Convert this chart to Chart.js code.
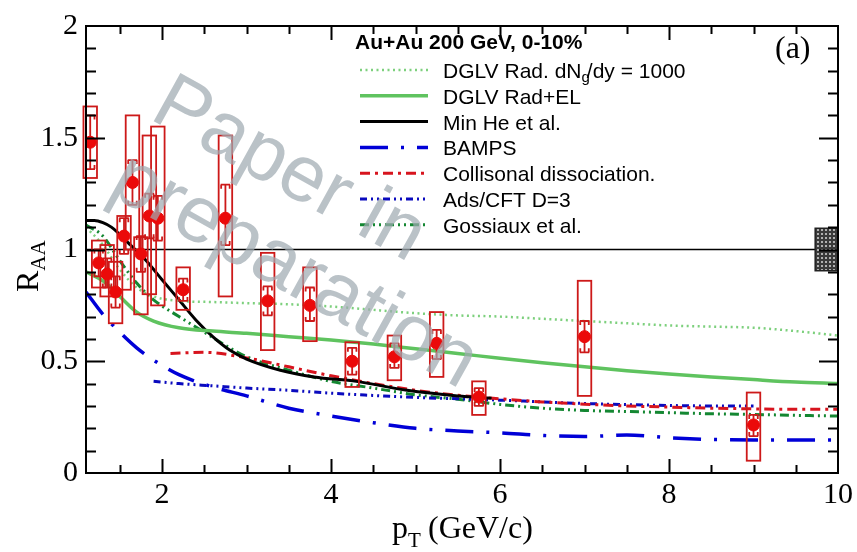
<!DOCTYPE html>
<html>
<head>
<meta charset="utf-8">
<script src="https://cdn.jsdelivr.net/npm/chart.js@4.4.0/dist/chart.umd.min.js"></script>
<style>
  html, body { margin: 0; padding: 0; background: #fff; }
  #wrap { width: 857px; height: 552px; }
</style>
</head>
<body>
<div id="wrap"><canvas id="raaChart" width="857" height="552"></canvas></div>
<script>
// measured D0 RAA points
const dataPt = [1.15, 1.25, 1.35, 1.45, 1.55, 1.65, 1.75, 1.85, 1.95, 2.25, 2.75, 3.25, 3.75, 4.25, 4.75, 5.25, 5.75, 7.0, 9.0];
const dataRaa = [1.48, 0.94, 0.89, 0.81, 1.06, 1.30, 0.98, 1.15, 1.14, 0.82, 1.14, 0.77, 0.75, 0.50, 0.52, 0.58, 0.34, 0.61, 0.215];
const statLow = [1.36, 0.88, 0.83, 0.74, 0.98, 1.20, 0.90, 1.05, 1.04, 0.77, 1.02, 0.705, 0.68, 0.44, 0.47, 0.51, 0.30, 0.54, 0.165];
const statHigh = [1.60, 1.00, 0.96, 0.88, 1.14, 1.40, 1.06, 1.25, 1.24, 0.87, 1.29, 0.835, 0.83, 0.56, 0.58, 0.64, 0.38, 0.68, 0.26];
const sysLow = [1.32, 0.83, 0.79, 0.67, 0.82, 1.00, 0.71, 0.80, 0.75, 0.73, 0.79, 0.55, 0.59, 0.385, 0.415, 0.43, 0.26, 0.345, 0.055];
const sysHigh = [1.64, 1.04, 1.02, 0.945, 1.15, 1.60, 1.055, 1.51, 1.55, 0.92, 1.51, 0.985, 0.92, 0.585, 0.615, 0.72, 0.41, 0.86, 0.36];
const boxHalfWidth = 0.08;

// normalisation uncertainty at RAA = 1
const normPt = [9.73, 10.0];
const normRaa = [0.905, 1.095];

// model curves
const dglvRadPt = [1.1, 1.3, 1.5, 1.7, 1.9, 2.2, 2.6, 3.0, 3.5, 4.0, 4.5, 5.0, 5.5, 6.0, 6.5, 7.0, 7.5, 8.0, 8.5, 9.0, 9.5, 10.0];
const dglvRadRaa = [1.10, 1.02, 0.91, 0.83, 0.79, 0.77, 0.765, 0.76, 0.755, 0.745, 0.73, 0.715, 0.705, 0.70, 0.69, 0.68, 0.67, 0.66, 0.655, 0.65, 0.635, 0.615];

const dglvElPt = [1.1, 1.3, 1.5, 1.7, 1.9, 2.2, 2.6, 3.0, 3.5, 4.0, 4.5, 5.0, 5.5, 6.0, 6.5, 7.0, 7.5, 8.0, 8.5, 9.0, 9.5, 10.0];
const dglvElRaa = [0.90, 0.86, 0.79, 0.72, 0.68, 0.65, 0.635, 0.625, 0.61, 0.595, 0.577, 0.556, 0.535, 0.513, 0.493, 0.475, 0.458, 0.443, 0.43, 0.418, 0.407, 0.40];

const minHePt = [1.1, 1.2, 1.3, 1.4, 1.6, 1.8, 2.0, 2.2, 2.4, 2.6, 2.8, 3.0, 3.4, 3.8, 4.3, 4.9, 5.5, 5.9];
const minHeRaa = [1.13, 1.13, 1.12, 1.10, 1.03, 0.955, 0.865, 0.775, 0.685, 0.61, 0.55, 0.51, 0.46, 0.43, 0.41, 0.37, 0.345, 0.335];

const bampsPt = [1.1, 1.3, 1.5, 1.7, 1.9, 2.2, 2.6, 3.0, 3.5, 4.0, 4.5, 5.0, 5.5, 6.0, 6.5, 7.0, 7.5, 8.0, 8.5, 9.0, 9.5, 10.0];
const bampsRaa = [0.81, 0.71, 0.63, 0.56, 0.505, 0.44, 0.385, 0.345, 0.29, 0.255, 0.225, 0.20, 0.188, 0.18, 0.168, 0.163, 0.17, 0.158, 0.15, 0.148, 0.148, 0.148];

const collPt = [2.1, 2.5, 3.0, 3.5, 4.0, 4.5, 5.0, 5.5, 6.0, 6.5, 7.0, 7.5, 8.0, 8.5, 9.0, 9.5, 10.0];
const collRaa = [0.535, 0.54, 0.515, 0.475, 0.435, 0.40, 0.37, 0.348, 0.332, 0.318, 0.308, 0.30, 0.295, 0.29, 0.287, 0.285, 0.285];

const adsPt = [1.9, 2.2, 2.6, 3.0, 3.5, 4.0, 4.5, 5.0, 5.5, 6.0, 6.5, 7.0, 7.5, 8.0, 8.5, 9.0];
const adsRaa = [0.41, 0.40, 0.39, 0.38, 0.37, 0.357, 0.347, 0.338, 0.332, 0.326, 0.318, 0.311, 0.306, 0.302, 0.30, 0.30];

const gossPt = [1.1, 1.3, 1.5, 1.7, 1.9, 2.2, 2.5, 2.8, 3.0, 3.5, 4.0, 4.5, 5.0, 5.5, 6.0, 6.5, 7.0, 7.5, 8.0, 8.5, 9.0, 9.5, 10.0];
const gossRaa = [1.11, 1.06, 0.95, 0.85, 0.775, 0.70, 0.63, 0.56, 0.52, 0.46, 0.41, 0.38, 0.35, 0.33, 0.307, 0.29, 0.28, 0.275, 0.27, 0.265, 0.262, 0.258, 0.255];

const xTickLabels = [2, 4, 6, 8, 10];
const yTickLabels = [0, 0.5, 1, 1.5, 2];

const models = [
  { label: "DGLV Rad. dN", sub: "g", rest: "/dy = 1000", pt: dglvRadPt, raa: dglvRadRaa, color: "rgb(125,208,125)", width: 2.5, dash: [2, 3.5] },
  { label: "DGLV Rad+EL", pt: dglvElPt, raa: dglvElRaa, color: "rgb(95,195,95)", width: 3.5, dash: [] },
  { label: "Min He et al.", pt: minHePt, raa: minHeRaa, color: "#000", width: 3, dash: [] },
  { label: "BAMPS", pt: bampsPt, raa: bampsRaa, color: "rgb(0,0,215)", width: 3.5, dash: [28, 13, 3, 13] },
  { label: "Collisonal dissociation.", pt: collPt, raa: collRaa, color: "rgb(215,20,30)", width: 3, dash: [10, 5, 3, 5] },
  { label: "Ads/CFT D=3", pt: adsPt, raa: adsRaa, color: "rgb(10,10,190)", width: 3, dash: [7, 4, 2, 4, 2, 4] },
  { label: "Gossiaux et al.", pt: gossPt, raa: gossRaa, color: "rgb(20,135,50)", width: 3, dash: [9, 4, 2, 4, 2, 4] },
];

function toXY(xs, ys) {
  return xs.map((x, i) => ({ x: x, y: ys[i] }));
}

const datasets = models.map((m) => ({
  type: "line",
  label: m.label,
  data: toXY(m.pt, m.raa),
  borderColor: m.color,
  borderWidth: m.width,
  borderDash: m.dash,
  pointRadius: 0,
  fill: false,
  cubicInterpolationMode: "monotone",
  order: 2,
}));

datasets.push({
  type: "scatter",
  label: "data",
  data: toXY(dataPt, dataRaa),
  pointRadius: 6,
  pointBackgroundColor: "rgb(235,10,10)",
  pointBorderColor: "rgb(235,10,10)",
  order: 0,
});

const serif = '"Liberation Serif", "DejaVu Serif", serif';
const sans = '"Liberation Sans", Arial, sans-serif';

const overlay = {
  id: "overlay",
  beforeDatasetsDraw(chart) {
    const { ctx, chartArea: a } = chart;
    const xs = chart.scales.x, ys = chart.scales.y;
    ctx.save();
    // RAA = 1 line
    ctx.strokeStyle = "#000";
    ctx.lineWidth = 1.5;
    ctx.beginPath();
    ctx.moveTo(a.left, ys.getPixelForValue(1));
    ctx.lineTo(xs.getPixelForValue(normPt[0]), ys.getPixelForValue(1));
    ctx.stroke();
    // normalisation box
    const pc = document.createElement("canvas");
    pc.width = 4; pc.height = 4;
    const p = pc.getContext("2d");
    p.fillStyle = "#3a3a3a"; p.fillRect(0, 0, 4, 4);
    p.fillStyle = "#b0b0b0"; p.fillRect(1, 1, 2, 2);
    const x0 = xs.getPixelForValue(normPt[0]), x1 = xs.getPixelForValue(normPt[1]);
    const y0 = ys.getPixelForValue(normRaa[1]), y1 = ys.getPixelForValue(normRaa[0]);
    ctx.fillStyle = ctx.createPattern(pc, "repeat");
    ctx.fillRect(x0, y0, x1 - x0, y1 - y0);
    ctx.strokeStyle = "#222";
    ctx.lineWidth = 1.5;
    ctx.strokeRect(x0, y0, x1 - x0, y1 - y0);
    ctx.restore();
  },
  beforeDatasetDraw(chart, args) {
    if (args.index !== models.length) return;
    const { ctx } = chart;
    const xs = chart.scales.x, ys = chart.scales.y;
    ctx.save();
    ctx.strokeStyle = "rgb(205,25,25)";
    ctx.lineWidth = 1.8;
    dataPt.forEach((pt, i) => {
      const l = xs.getPixelForValue(pt - boxHalfWidth);
      const r = xs.getPixelForValue(pt + boxHalfWidth);
      const c = xs.getPixelForValue(pt);
      const top = ys.getPixelForValue(sysHigh[i]);
      const bot = ys.getPixelForValue(sysLow[i]);
      ctx.strokeRect(l, top, r - l, bot - top);
      // stat error bar with bracket caps
      const st = ys.getPixelForValue(statHigh[i]);
      const sb = ys.getPixelForValue(statLow[i]);
      ctx.beginPath();
      ctx.moveTo(c, st); ctx.lineTo(c, sb);
      ctx.moveTo(l + 2, st); ctx.lineTo(r - 2, st);
      ctx.moveTo(l + 2, sb); ctx.lineTo(r - 2, sb);
      ctx.moveTo(l + 2.5, st); ctx.lineTo(l + 2.5, st + 4);
      ctx.moveTo(r - 2.5, st); ctx.lineTo(r - 2.5, st + 4);
      ctx.moveTo(l + 2.5, sb); ctx.lineTo(l + 2.5, sb - 4);
      ctx.moveTo(r - 2.5, sb); ctx.lineTo(r - 2.5, sb - 4);
      ctx.stroke();
    });
    ctx.restore();
  },
  afterDatasetsDraw(chart) {
    const { ctx, chartArea: a } = chart;
    const xs = chart.scales.x, ys = chart.scales.y;
    ctx.save();
    // frame
    ctx.strokeStyle = "#000";
    ctx.lineWidth = 2;
    ctx.strokeRect(a.left, a.top, a.right - a.left, a.bottom - a.top);
    // inward ticks on all four sides
    ctx.lineWidth = 2;
    ctx.beginPath();
    for (let v = 1.5; v < 10; v += 0.5) {
      const px = Math.round(xs.getPixelForValue(v)) + 0.5;
      const len = Math.abs(v % 2) < 1e-6 ? 14 : 8;
      ctx.moveTo(px, a.bottom); ctx.lineTo(px, a.bottom - len);
      ctx.moveTo(px, a.top); ctx.lineTo(px, a.top + len);
    }
    for (let k = 1; k < 20; k++) {
      const v = k / 10;
      const py = Math.round(ys.getPixelForValue(v)) + 0.5;
      const len = k % 5 === 0 ? 19 : 10;
      ctx.moveTo(a.left, py); ctx.lineTo(a.left + len, py);
      ctx.moveTo(a.right, py); ctx.lineTo(a.right - len, py);
    }
    ctx.stroke();

    // legend
    ctx.fillStyle = "#000";
    ctx.textBaseline = "alphabetic";
    ctx.font = "bold 21px " + sans;
    ctx.fillText("Au+Au 200 GeV, 0-10%", 355, 49);
    models.forEach((m, i) => {
      const y = 70 + i * 25.8;
      ctx.strokeStyle = m.color;
      ctx.lineWidth = m.width;
      ctx.setLineDash(m.dash);
      ctx.beginPath();
      ctx.moveTo(360, y); ctx.lineTo(428, y);
      ctx.stroke();
      ctx.setLineDash([]);
      ctx.fillStyle = "#000";
      ctx.font = "21px " + sans;
      let tx = 443;
      ctx.fillText(m.label, tx, y + 8);
      if (m.sub) {
        tx += ctx.measureText(m.label).width;
        ctx.font = "15px " + sans;
        ctx.fillText(m.sub, tx, y + 12);
        tx += ctx.measureText(m.sub).width - 3;
        ctx.font = "21px " + sans;
        ctx.fillText(m.rest, tx, y + 8);
      }
    });

    // panel tag
    ctx.font = "32px " + serif;
    ctx.fillText("(a)", 775, 58);

    // axis titles
    ctx.save();
    ctx.translate(38, 292);
    ctx.rotate(-Math.PI / 2);
    ctx.font = "32px " + serif;
    ctx.fillText("R", 0, 0);
    const rw = ctx.measureText("R").width;
    ctx.font = "21px " + serif;
    ctx.fillText("AA", rw, 7);
    ctx.restore();

    ctx.font = "32px " + serif;
    ctx.fillText("p", 392, 538);
    const pw = ctx.measureText("p").width;
    ctx.font = "21px " + serif;
    ctx.fillText("T", 392 + pw, 547);
    ctx.font = "32px " + serif;
    ctx.fillText(" (GeV/c)", 392 + pw + 12, 538);

    // watermark
    ctx.save();
    ctx.translate(148, 118);
    ctx.rotate(29 * Math.PI / 180);
    ctx.font = "80px " + sans;
    ctx.fillStyle = "rgba(160,170,178,0.72)";
    ctx.fillText("Paper in", 0, 0);
    ctx.fillText("preparation", 0, 86);
    ctx.restore();

    ctx.restore();
  },
};

new Chart(document.getElementById("raaChart"), {
  data: { datasets: datasets },
  options: {
    responsive: false,
    animation: false,
    layout: { padding: { top: 16, right: 17, left: 0, bottom: 0 } },
    plugins: { legend: { display: false }, tooltip: { enabled: false } },
    scales: {
      x: {
        type: "linear",
        min: 1.1,
        max: 10,
        grid: { display: false, drawTicks: false },
        border: { display: false },
        afterBuildTicks: (s) => { s.ticks = xTickLabels.map((v) => ({ value: v })); },
        afterFit: (s) => { s.height = 79; },
        ticks: { color: "#000", padding: 4, maxRotation: 0, font: { family: "Liberation Serif", size: 30 } },
      },
      y: {
        type: "linear",
        min: 0,
        max: 2,
        grid: { display: false, drawTicks: false },
        border: { display: false },
        afterBuildTicks: (s) => { s.ticks = yTickLabels.map((v) => ({ value: v })); },
        afterFit: (s) => { s.width = 86; },
        ticks: { color: "#000", padding: 8, font: { family: "Liberation Serif", size: 30 }, callback: (v) => String(v) },
      },
    },
  },
  plugins: [overlay],
});
</script>
</body>
</html>
